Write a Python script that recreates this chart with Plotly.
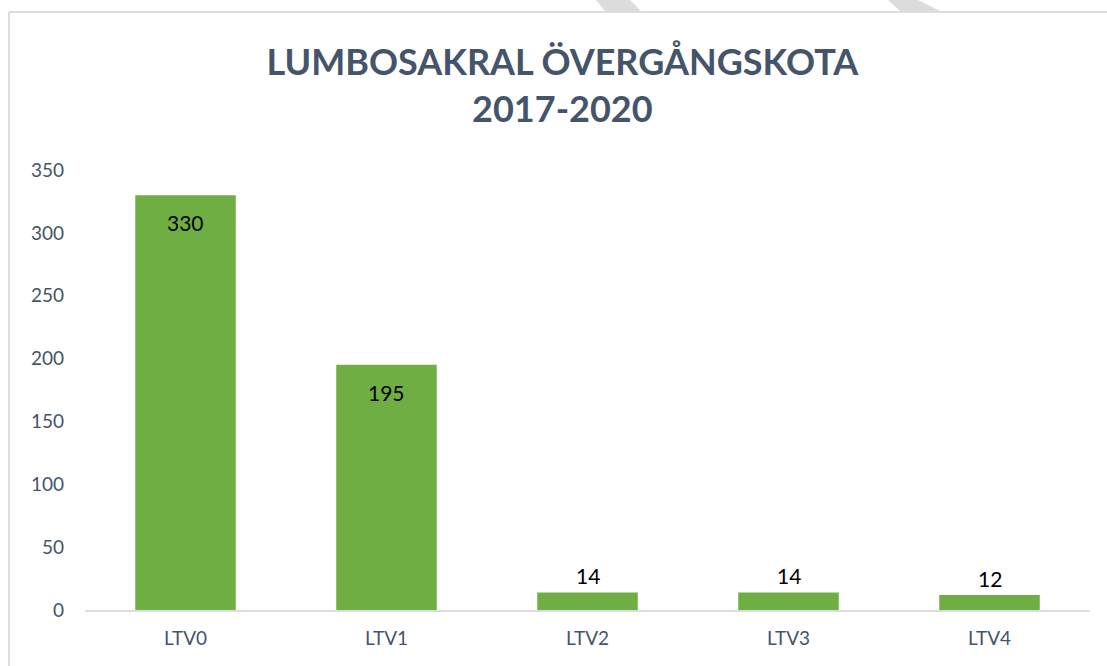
import plotly.graph_objects as go

categories = ["LTV0", "LTV1", "LTV2", "LTV3", "LTV4"]
values = [330, 195, 14, 14, 12]
label_inside = [True, True, False, False, False]
y_ticks = [0, 50, 100, 150, 200, 250, 300, 350]

W, H = 1107, 666
L, R, T, B = 85, 17, 170, 56
pw, ph = W - L - R, H - T - B

def px(x):
    return (x - L) / pw

def py(y):
    return (H - B - y) / ph

fig = go.Figure()
fig.add_trace(go.Bar(
    x=categories, y=values,
    marker=dict(color="#6EAE42", line=dict(width=0)),
    hoverinfo="x+y",
))

annotations = []
for c, v, inside in zip(categories, values, label_inside):
    annotations.append(dict(
        x=c, y=v, xref="x", yref="y", text=str(v), showarrow=False,
        yanchor="top" if inside else "bottom",
        yshift=-13 if inside else 2,
        font=dict(family="Lato", size=21, color="#000000"),
    ))

shapes = [
    dict(type="line", xref="paper", yref="paper", x0=px(9), x1=px(9), y0=py(12), y1=py(700),
         line=dict(color="#D9DEE6", width=2)),
    dict(type="line", xref="paper", yref="paper", x0=px(9), x1=px(1200), y0=py(12), y1=py(12),
         line=dict(color="#D9DEE6", width=2)),
]
for (a, b, c, d) in [(596, 630, 641, 605), (888, 918, 940, 900)]:
    shapes.append(dict(
        type="path", xref="paper", yref="paper",
        path=f"M {px(a)},{py(0)} L {px(b)},{py(0)} L {px(c)},{py(11)} L {px(d)},{py(11)} Z",
        fillcolor="#DCDCDC", line=dict(width=0)))

fig.update_layout(
    width=W, height=H,
    margin=dict(l=L, r=R, t=T, b=B),
    paper_bgcolor="white", plot_bgcolor="white",
    bargap=0.5,
    showlegend=False,
    title=dict(
        text="<b>LUMBOSAKRAL ÖVERGÅNGSKOTA<br>2017-2020</b>",
        x=0.508, xanchor="center", y=1 - 75 / H, yanchor="top", yref="container",
        font=dict(family="Lato", size=36, color="#44546A"),
    ),
    xaxis=dict(
        showgrid=False, showline=True, linecolor="#D9DEE6", linewidth=2,
        ticks="", tickfont=dict(family="Lato", size=19, color="#44546A"),
        ticklabelstandoff=10,
    ),
    yaxis=dict(
        range=[0, 350], tickvals=y_ticks, showgrid=False, showline=False, zeroline=False,
        ticks="", tickfont=dict(family="Lato", size=19, color="#44546A"),
        ticklabelstandoff=20,
    ),
    shapes=shapes,
    annotations=annotations,
)

fig.write_html(
    "out.html",
    config={"displayModeBar": False},
    post_script="document.body.style.margin='0';document.body.style.overflow='hidden';",
)
